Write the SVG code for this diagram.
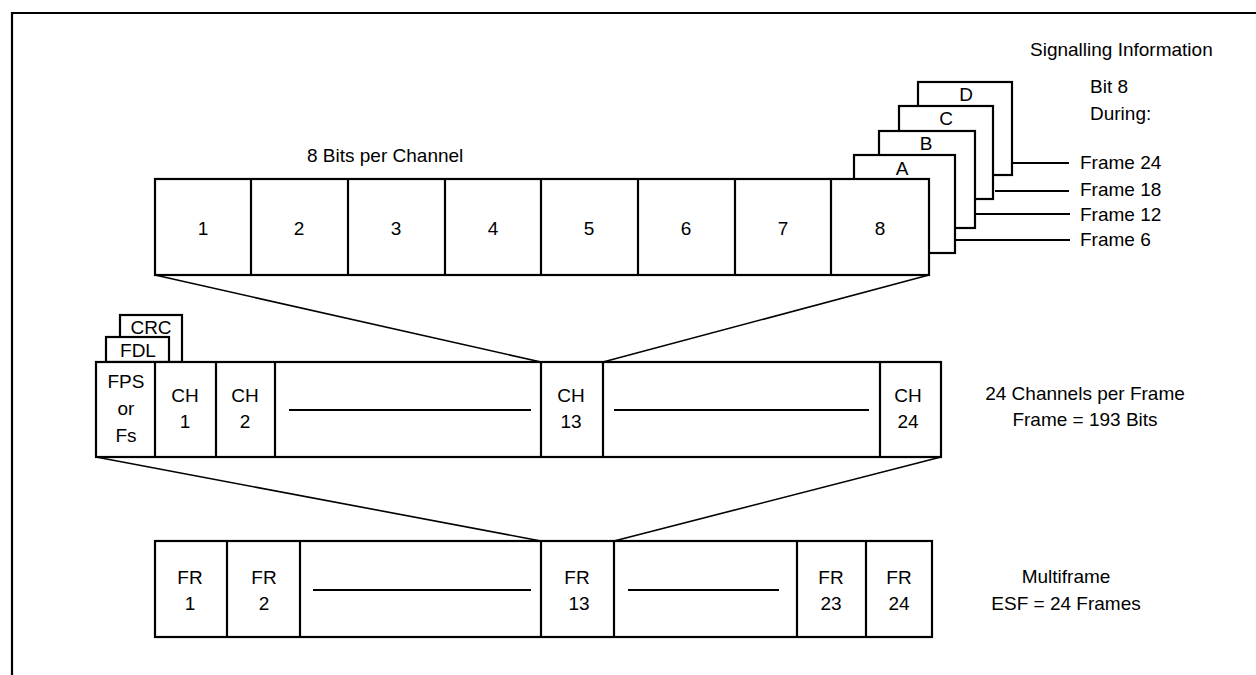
<svg xmlns="http://www.w3.org/2000/svg" width="1256" height="675" viewBox="0 0 1256 675">
<style>
.b{fill:#fff;stroke:#000;stroke-width:2.2}
.d{stroke:#000;stroke-width:2.2;fill:none}
.c{stroke:#000;stroke-width:1.6;fill:none}
text{font-family:"Liberation Sans",Arial,sans-serif;font-size:19px;fill:#000}
.m{text-anchor:middle}
</style>
<rect width="1256" height="675" fill="#fff"/>
<path class="d" d="M12 675 V13 H1256"/>
<g id="connectors">
<line class="c" x1="155" y1="275" x2="541" y2="362"/>
<line class="c" x1="929" y1="275" x2="603" y2="362"/>
<line class="c" x1="96" y1="457" x2="541" y2="541"/>
<line class="c" x1="941" y1="457" x2="614" y2="541"/>
<line class="d" x1="1012" y1="163" x2="1069" y2="163"/>
<line class="d" x1="995" y1="191" x2="1069" y2="191"/>
<line class="d" x1="976" y1="214" x2="1070" y2="214"/>
<line class="d" x1="955" y1="240" x2="1070" y2="240"/>
</g>
<g id="signalling">
<text x="1030" y="56">Signalling Information</text>
<text x="1090" y="93">Bit 8</text>
<text x="1090" y="120">During:</text>
<text x="1080" y="169">Frame 24</text>
<text x="1080" y="196">Frame 18</text>
<text x="1080" y="221">Frame 12</text>
<text x="1080" y="246">Frame 6</text>
<rect class="b" x="918" y="82" width="94" height="93"/>
<text class="m" x="966" y="101">D</text>
<rect class="b" x="899" y="106" width="94" height="93"/>
<text class="m" x="946" y="125">C</text>
<rect class="b" x="879" y="131" width="96" height="97"/>
<text class="m" x="926" y="150">B</text>
<rect class="b" x="854" y="155" width="101" height="98"/>
<text class="m" x="902" y="175">A</text>
</g>
<g id="bits">
<text x="307" y="162">8 Bits per Channel</text>
<rect class="b" x="155" y="179" width="774" height="96"/>
<path class="d" d="M251 179V275M348 179V275M445 179V275M541 179V275M638 179V275M735 179V275M831 179V275"/>
<text class="m" x="203" y="235">1</text>
<text class="m" x="299" y="235">2</text>
<text class="m" x="396" y="235">3</text>
<text class="m" x="493" y="235">4</text>
<text class="m" x="589" y="235">5</text>
<text class="m" x="686" y="235">6</text>
<text class="m" x="783" y="235">7</text>
<text class="m" x="880" y="235">8</text>
</g>
<g id="frame">
<rect class="b" x="120" y="315" width="62" height="47"/>
<text class="m" x="151" y="334">CRC</text>
<rect class="b" x="106" y="337" width="63" height="25"/>
<text class="m" x="138" y="357">FDL</text>
<rect class="b" x="96" y="362" width="845" height="95"/>
<path class="d" d="M155 362V457M216 362V457M275 362V457M541 362V457M603 362V457M880 362V457"/>
<path class="d" d="M289 410H531M614 410H869"/>
<text class="m" x="126" y="388">FPS</text>
<text class="m" x="126" y="415">or</text>
<text class="m" x="126" y="442">Fs</text>
<text class="m" x="185" y="402">CH</text>
<text class="m" x="185" y="428">1</text>
<text class="m" x="245" y="402">CH</text>
<text class="m" x="245" y="428">2</text>
<text class="m" x="571" y="402">CH</text>
<text class="m" x="571" y="428">13</text>
<text class="m" x="908" y="402">CH</text>
<text class="m" x="908" y="428">24</text>
<text class="m" x="1085" y="400">24 Channels per Frame</text>
<text class="m" x="1085" y="426">Frame = 193 Bits</text>
</g>
<g id="multiframe">
<rect class="b" x="155" y="541" width="777" height="96"/>
<path class="d" d="M227 541V637M300 541V637M541 541V637M614 541V637M797 541V637M866 541V637"/>
<path class="d" d="M313 590H531M628 590H779"/>
<text class="m" x="190" y="584">FR</text>
<text class="m" x="190" y="610">1</text>
<text class="m" x="264" y="584">FR</text>
<text class="m" x="264" y="610">2</text>
<text class="m" x="577" y="584">FR</text>
<text class="m" x="579" y="610">13</text>
<text class="m" x="831" y="584">FR</text>
<text class="m" x="831" y="610">23</text>
<text class="m" x="899" y="584">FR</text>
<text class="m" x="899" y="610">24</text>
<text class="m" x="1066" y="583">Multiframe</text>
<text class="m" x="1066" y="610">ESF = 24 Frames</text>
</g>
</svg>
